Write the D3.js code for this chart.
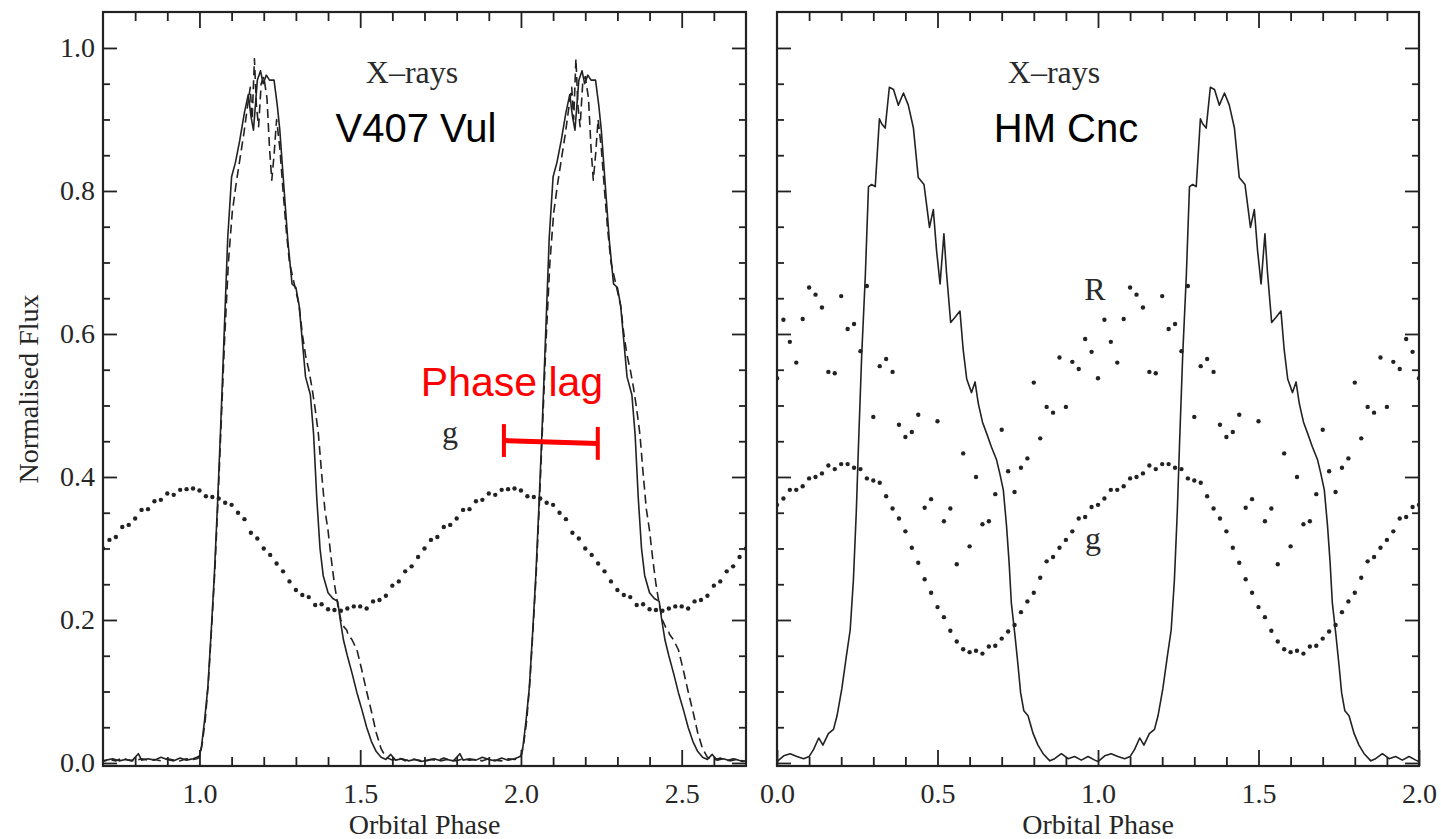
<!DOCTYPE html>
<html>
<head>
<meta charset="utf-8">
<script src="https://cdn.jsdelivr.net/npm/d3@7"></script>
<style>
  html, body { margin: 0; padding: 0; background: #fff; }
  svg { display: block; }
  .tick text { font-family: "Liberation Serif", "Times New Roman", serif; font-size: 28px; fill: #262626; }
  .tick line { stroke: #222; stroke-width: 1.8; }
</style>
</head>
<body>
<svg id="chart" width="1441" height="839"></svg>
<script>
// ---- One orbital cycle of each light curve (phase within [0,1)) ----

// V407 Vul, X-ray profile (solid)
const v407XrayPhase = [0.000,0.006,0.016,0.026,0.036,0.046,0.056,0.066,0.076,0.088,0.100,0.112,0.125,0.140,0.152,0.160,0.168,0.180,0.190,0.198,0.208,0.218,0.232,0.242,0.250,0.262,0.275,0.288,0.300,0.310,0.320,0.330,0.345,0.355,0.365,0.375,0.385,0.400,0.415,0.430,0.438,0.448,0.460,0.475,0.490,0.505,0.520,0.535,0.550,0.565,0.580,0.595,0.610,0.630,0.650,0.670,0.690,0.710,0.730,0.750,0.770,0.790,0.810,0.820,0.840,0.860,0.880,0.900,0.920,0.940,0.960,0.980,0.992];
const v407XrayFlux  = [0.010,0.022,0.060,0.105,0.180,0.260,0.360,0.470,0.590,0.735,0.820,0.840,0.870,0.910,0.935,0.905,0.885,0.955,0.968,0.950,0.962,0.955,0.955,0.920,0.885,0.810,0.730,0.670,0.665,0.640,0.590,0.540,0.515,0.460,0.370,0.300,0.262,0.238,0.230,0.226,0.200,0.172,0.150,0.125,0.098,0.075,0.050,0.030,0.016,0.008,0.005,0.012,0.004,0.006,0.003,0.005,0.002,0.004,0.006,0.003,0.005,0.003,0.013,0.004,0.006,0.004,0.008,0.005,0.003,0.007,0.004,0.006,0.008];

// V407 Vul, second X-ray profile (dashed)
const v407XrayBPhase = [0.000,0.008,0.018,0.028,0.038,0.048,0.058,0.068,0.078,0.090,0.102,0.114,0.126,0.138,0.150,0.158,0.164,0.171,0.177,0.184,0.192,0.200,0.210,0.218,0.225,0.232,0.240,0.250,0.260,0.270,0.280,0.290,0.300,0.310,0.320,0.330,0.340,0.350,0.360,0.370,0.380,0.390,0.400,0.410,0.420,0.430,0.440,0.450,0.458,0.462,0.475,0.490,0.505,0.520,0.535,0.550,0.565,0.580,0.600,0.620,0.640,0.660,0.680,0.700,0.720,0.740,0.760,0.780,0.800,0.820,0.840,0.860,0.880,0.900,0.920,0.940,0.960,0.980,0.992];
const v407XrayBFlux  = [0.008,0.025,0.060,0.115,0.190,0.270,0.370,0.480,0.590,0.700,0.770,0.810,0.845,0.880,0.920,0.945,0.900,0.985,0.920,0.890,0.950,0.960,0.930,0.860,0.815,0.850,0.900,0.860,0.800,0.745,0.700,0.680,0.660,0.640,0.600,0.570,0.550,0.525,0.495,0.460,0.405,0.355,0.325,0.285,0.250,0.222,0.200,0.190,0.186,0.180,0.172,0.158,0.130,0.100,0.072,0.042,0.020,0.008,0.004,0.007,0.003,0.006,0.004,0.002,0.005,0.003,0.007,0.004,0.003,0.006,0.004,0.005,0.003,0.006,0.004,0.003,0.006,0.005,0.006];

// HM Cnc, X-ray profile
const hmXrayPhase = [0.000,0.021,0.041,0.062,0.083,0.100,0.114,0.130,0.143,0.160,0.176,0.187,0.202,0.216,0.228,0.238,0.247,0.254,0.264,0.275,0.285,0.295,0.306,0.319,0.326,0.337,0.350,0.363,0.378,0.394,0.409,0.425,0.440,0.458,0.475,0.487,0.497,0.508,0.520,0.528,0.541,0.554,0.570,0.580,0.591,0.606,0.617,0.627,0.640,0.653,0.668,0.684,0.694,0.705,0.715,0.723,0.730,0.741,0.751,0.759,0.769,0.782,0.798,0.813,0.829,0.850,0.865,0.886,0.907,0.927,0.948,0.969,0.990];
const hmXrayFlux  = [0.002,0.010,0.013,0.009,0.006,0.009,0.019,0.035,0.025,0.041,0.047,0.066,0.104,0.149,0.186,0.256,0.351,0.446,0.572,0.680,0.806,0.809,0.806,0.901,0.894,0.888,0.945,0.942,0.920,0.937,0.920,0.888,0.819,0.809,0.749,0.774,0.717,0.670,0.740,0.686,0.616,0.623,0.632,0.578,0.537,0.518,0.533,0.503,0.477,0.461,0.442,0.424,0.405,0.382,0.332,0.281,0.224,0.180,0.136,0.098,0.073,0.066,0.041,0.025,0.013,0.003,0.006,0.013,0.006,0.009,0.004,0.009,0.004];

// Optical points, sampled every 0.02 in phase
const opticalPhase = [0.00,0.02,0.04,0.06,0.08,0.10,0.12,0.14,0.16,0.18,0.20,0.22,0.24,0.26,0.28,0.30,0.32,0.34,0.36,0.38,0.40,0.42,0.44,0.46,0.48,0.50,0.52,0.54,0.56,0.58,0.60,0.62,0.64,0.66,0.68,0.70,0.72,0.74,0.76,0.78,0.80,0.82,0.84,0.86,0.88,0.90,0.92,0.94,0.96,0.98];
const v407gFlux = [0.381,0.373,0.372,0.370,0.364,0.361,0.350,0.341,0.322,0.314,0.300,0.291,0.279,0.268,0.254,0.242,0.235,0.232,0.221,0.222,0.215,0.214,0.213,0.216,0.219,0.219,0.216,0.226,0.228,0.234,0.248,0.254,0.268,0.275,0.288,0.300,0.312,0.316,0.330,0.333,0.342,0.354,0.355,0.366,0.368,0.377,0.375,0.382,0.383,0.384];
const hmgFlux   = [0.361,0.370,0.382,0.382,0.387,0.398,0.400,0.405,0.416,0.411,0.418,0.418,0.413,0.411,0.398,0.395,0.392,0.373,0.356,0.342,0.324,0.301,0.280,0.257,0.238,0.218,0.204,0.185,0.170,0.159,0.155,0.157,0.153,0.163,0.164,0.174,0.184,0.193,0.211,0.226,0.238,0.259,0.282,0.288,0.301,0.312,0.324,0.342,0.344,0.358];
const hmRFlux   = [0.538,0.620,0.589,0.560,0.621,0.665,0.655,0.637,0.547,0.545,0.653,0.607,0.614,0.576,0.667,0.484,0.555,0.565,0.547,0.473,0.456,0.463,0.487,0.357,0.369,0.478,0.338,0.356,0.278,0.433,0.303,0.400,0.334,0.338,0.376,0.466,0.408,0.379,0.413,0.426,0.532,0.454,0.498,0.490,0.567,0.498,0.561,0.551,0.593,0.575];

// Axis ticks
const yMajor = [0.0, 0.2, 0.4, 0.6, 0.8, 1.0];
const yMinor = [0.05,0.1,0.15,0.25,0.3,0.35,0.45,0.5,0.55,0.65,0.7,0.75,0.85,0.9,0.95];
const xMajorLeft  = [1.0, 1.5, 2.0, 2.5];
const xMinorLeft  = [0.8,0.9,1.1,1.2,1.3,1.4,1.6,1.7,1.8,1.9,2.1,2.2,2.3,2.4,2.6];
const xMajorRight = [0.0, 0.5, 1.0, 1.5, 2.0];
const xMinorRight = [0.1,0.2,0.3,0.4,0.6,0.7,0.8,0.9,1.1,1.2,1.3,1.4,1.6,1.7,1.8,1.9];

// Phase-lag marker (from g maximum to X-ray maximum)
const lagStart = [1.947, 0.451];
const lagEnd   = [2.239, 0.447];

// ---- Drawing ----
const svg = d3.select("#chart");
const INK = "#222";
const serif = '"Liberation Serif", "Times New Roman", serif';
const sans  = '"Liberation Sans", Arial, sans-serif';

const yTop = 12, yBottom = 766;
const y = d3.scaleLinear().domain([-0.0042, 1.0503]).range([yBottom, yTop]);

// repeat one cycle over several orbits
function unfold(phases, values, cycles) {
  const out = [];
  cycles.forEach(k => phases.forEach((p, i) => out.push({ x: p + k, y: values[i] })));
  return out;
}

function panel(id, x0, x1, domain, opts) {
  const x = d3.scaleLinear().domain(domain).range([x0, x1]);
  const g = svg.append("g").attr("class", id);

  const clipId = "clip-" + id;
  svg.append("clipPath").attr("id", clipId)
    .append("rect").attr("x", x0).attr("y", yTop).attr("width", x1 - x0).attr("height", yBottom - yTop);

  // ticks
  const xa = (axisFn, vals, size, labels, pos, pad) => {
    const a = axisFn(x).tickValues(vals).tickSize(size).tickPadding(pad || 0)
      .tickFormat(labels ? d3.format(".1f") : "");
    const ax = g.append("g").attr("transform", `translate(0,${pos})`).call(a);
    ax.select(".domain").remove();
    return ax;
  };
  const ya = (axisFn, vals, size, labels, pos, pad) => {
    const a = axisFn(y).tickValues(vals).tickSize(size).tickPadding(pad || 0)
      .tickFormat(labels ? d3.format(".1f") : "");
    const ax = g.append("g").attr("transform", `translate(${pos},0)`).call(a);
    ax.select(".domain").remove();
    return ax;
  };
  xa(d3.axisBottom, opts.xMajor, -16, true, yBottom, 17);
  xa(d3.axisBottom, opts.xMinor, -9, false, yBottom);
  xa(d3.axisTop, opts.xMajor.filter(v => v > domain[0] && v < domain[1]), -16, false, yTop);
  xa(d3.axisTop, opts.xMinor, -9, false, yTop);
  ya(d3.axisLeft, yMajor, -14, opts.yLabels, x0, 8);
  ya(d3.axisLeft, yMinor, -7, false, x0);
  ya(d3.axisRight, yMajor, -14, false, x1);
  ya(d3.axisRight, yMinor, -7, false, x1);

  // frame
  g.append("rect").attr("x", x0).attr("y", yTop).attr("width", x1 - x0).attr("height", yBottom - yTop)
    .attr("fill", "none").attr("stroke", INK).attr("stroke-width", 2.2);

  const plot = g.append("g").attr("clip-path", `url(#${clipId})`);
  const line = d3.line().x(d => x(d.x)).y(d => y(d.y));

  opts.lines.forEach(L => {
    plot.append("path").datum(unfold(L.phase, L.flux, opts.cycles))
      .attr("d", line).attr("fill", "none").attr("stroke", INK)
      .attr("stroke-width", 1.6).attr("stroke-linejoin", "round")
      .attr("stroke-dasharray", L.dash || null);
  });

  opts.dots.forEach(D => {
    const pts = unfold(opticalPhase, D, opts.cycles)
      .filter(d => d.x >= domain[0] - 1e-6 && d.x <= domain[1] + 1e-6);
    plot.selectAll(null).data(pts).enter().append("circle")
      .attr("cx", d => x(d.x)).attr("cy", d => y(d.y)).attr("r", 2.2).attr("fill", INK);
  });

  // axis title
  svg.append("text").attr("x", (x0 + x1) / 2).attr("y", 834).attr("text-anchor", "middle")
    .attr("font-family", serif).attr("font-size", 28).attr("fill", "#262626").text("Orbital Phase");

  return x;
}

const xL = panel("left", 103, 746, [0.7, 2.7], {
  xMajor: xMajorLeft, xMinor: xMinorLeft, yLabels: true, cycles: [0, 1, 2],
  lines: [
    { phase: v407XrayPhase, flux: v407XrayFlux },
    { phase: v407XrayBPhase, flux: v407XrayBFlux, dash: "9,5" }
  ],
  dots: [v407gFlux]
});

const xR = panel("right", 777, 1419, [0, 2], {
  xMajor: xMajorRight, xMinor: xMinorRight, yLabels: false, cycles: [0, 1, 2],
  lines: [{ phase: hmXrayPhase, flux: hmXrayFlux }],
  dots: [hmgFlux, hmRFlux]
});

// y title
svg.append("text").attr("transform", "translate(28,389) rotate(-90)")
  .attr("text-anchor", "middle").attr("dy", "0.35em")
  .attr("font-family", serif).attr("font-size", 28).attr("fill", "#262626").text("Normalised Flux");

// panel labels
const label = (txt, xp, yp, font, size, color, anchor) =>
  svg.append("text").attr("x", xp).attr("y", yp).attr("text-anchor", anchor || "middle")
    .attr("font-family", font).attr("font-size", size).attr("fill", color).text(txt);

label("X–rays", 412, 83, serif, 32, "#2a2a2a");
label("V407 Vul", 416, 142, sans, 40, "#000");
label("X–rays", 1054, 83, serif, 32, "#2a2a2a");
label("HM Cnc", 1066, 142, sans, 40, "#000");
label("g", 450, 443, serif, 32, "#2a2a2a");
label("R", 1095, 300, serif, 32, "#2a2a2a");
label("g", 1093, 549, serif, 32, "#2a2a2a");
label("Phase lag", 512, 396, sans, 41, "#ff0000");

// phase-lag bar with end caps
const lag = svg.append("g").attr("stroke", "#ff0000");
lag.append("line").attr("x1", xL(lagStart[0])).attr("y1", y(lagStart[1]))
  .attr("x2", xL(lagEnd[0])).attr("y2", y(lagEnd[1])).attr("stroke-width", 5);
[lagStart, lagEnd].forEach(p => {
  lag.append("line").attr("x1", xL(p[0])).attr("x2", xL(p[0]))
    .attr("y1", y(p[1] + 0.023)).attr("y2", y(p[1] - 0.023)).attr("stroke-width", 4);
});
</script>
</body>
</html>
